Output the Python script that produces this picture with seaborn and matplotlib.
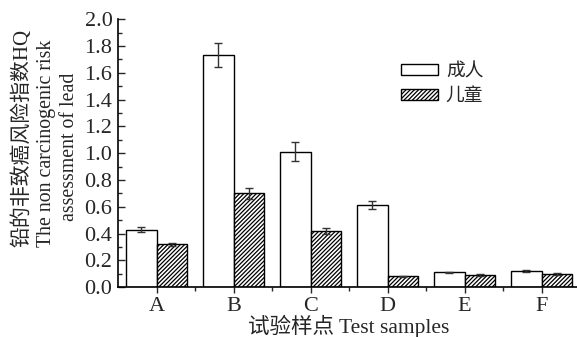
import numpy as np
import pandas as pd
import matplotlib
matplotlib.use("Agg")
import matplotlib.pyplot as plt
from matplotlib.ticker import MultipleLocator
import seaborn as sns

# ---------------------------------------------------------------------------
# Data
# ---------------------------------------------------------------------------
samples = ["A", "B", "C", "D", "E", "F"]
groups = ["成人", "儿童"]
adult_hq = [0.43, 1.73, 1.01, 0.61, 0.11, 0.12]
child_hq = [0.32, 0.70, 0.42, 0.08, 0.09, 0.10]
adult_err = [0.02, 0.09, 0.07, 0.03, 0.006, 0.006]
child_err = [0.01, 0.04, 0.02, 0.006, 0.006, 0.006]
ylabel_lines = ["铅的非致癌风险指数HQ", "The non carcinogenic risk", "assessment of lead"]

df = pd.DataFrame({
    "sample": samples * 2,
    "group": [groups[0]] * len(samples) + [groups[1]] * len(samples),
    "hq": adult_hq + child_hq,
})
errs = [adult_err, child_err]
HATCH = "////////"

sns.set_theme(style="ticks")
plt.rcParams["font.family"] = ["Liberation Serif", "Noto Sans CJK SC"]
plt.rcParams["axes.unicode_minus"] = False
plt.rcParams["hatch.linewidth"] = 0.9

fig = plt.figure(figsize=(5.77, 3.37), dpi=100)
ax = fig.add_axes([0.2045, 0.148, 0.801, 0.7953])

sns.barplot(data=df, x="sample", y="hq", hue="group", order=samples,
            hue_order=groups, palette=["white", "white"], width=0.8,
            edgecolor="black", linewidth=1.0, errorbar=None, ax=ax)

# hatch the children's bars + error bars
for cont, err, hatch in zip(ax.containers, errs, [None, HATCH]):
    xs, ys = [], []
    for bar in cont:
        if hatch:
            bar.set_hatch(hatch)
        xs.append(bar.get_x() + bar.get_width() / 2)
        ys.append(bar.get_height())
    ax.errorbar(xs, ys, yerr=err, fmt="none", ecolor="#333333",
                elinewidth=1.0, capsize=3, capthick=1.0, zorder=5)

ax.set_xlim(-0.5, 5.5)
ax.set_ylim(0, 2.0)
ax.yaxis.set_minor_locator(MultipleLocator(0.1))
ax.set_xticks(np.arange(len(samples)))
ax.set_xticks(np.arange(len(samples)) + 0.5, minor=True)
ax.set_yticks(np.arange(0, 2.01, 0.2))
ax.set_yticklabels([f"{v:.1f}" for v in np.arange(0, 2.01, 0.2)])
ax.tick_params(axis="y", which="major", direction="in", length=5, width=1,
               labelsize=16, pad=4)
ax.tick_params(axis="y", which="minor", direction="in", length=3, width=1)
ax.tick_params(axis="x", which="major", direction="out", length=4, width=1,
               labelsize=16, pad=3)
ax.tick_params(axis="x", which="minor", direction="out", length=3, width=1)

for side in ["top", "right"]:
    ax.spines[side].set_visible(False)
for side in ["left", "bottom"]:
    ax.spines[side].set_linewidth(1.2)
    ax.spines[side].set_color("black")

ax.set_xlabel("试验样点 Test samples", fontsize=15.5, labelpad=-1)
ax.set_ylabel("")

# three-line y label, each line placed separately (Chinese / English sizes differ)
for txt, xpos, ypos, fs in zip(ylabel_lines, [-0.208, -0.154, -0.104],
                               [0.556, 0.537, 0.522], [15, 14.3, 14.3]):
    ax.text(xpos, ypos, txt, transform=ax.transAxes, rotation=90,
            ha="center", va="center", fontsize=fs)

leg = ax.legend(loc="upper left", bbox_to_anchor=(0.612, 0.835), frameon=False,
                fontsize=13.5, handlelength=2.0, handleheight=0.55,
                handletextpad=0.4, labelspacing=0.4, borderpad=0,
                borderaxespad=0)
for h, hatch in zip(leg.legend_handles, [None, HATCH]):
    h.set_facecolor("white")
    h.set_edgecolor("black")
    if hatch:
        h.set_hatch(hatch)

fig.savefig("out.png", dpi=100)
